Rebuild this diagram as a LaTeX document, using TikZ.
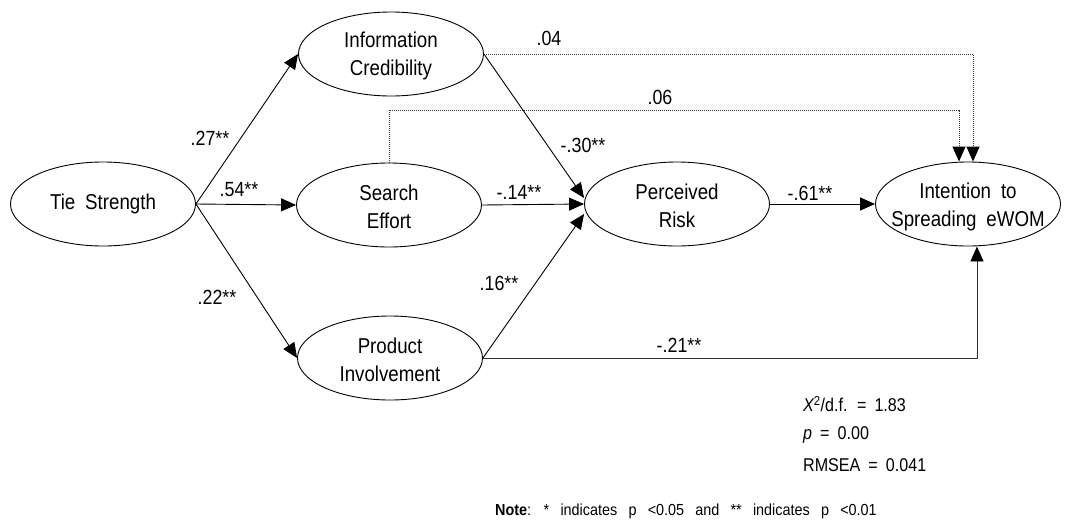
\documentclass[tikz,border=0pt]{standalone}
\usepackage{fontspec}
\setmainfont[FakeStretch=0.87,WordSpace=1.9]{Liberation Sans}
\newfontfamily\statfont[FakeStretch=0.87,WordSpace=1.8]{Liberation Sans}
\newfontfamily\notefont[FakeStretch=0.9,WordSpace=2.8]{Liberation Sans}
\usetikzlibrary{arrows.meta,shapes.geometric,calc}
\begin{document}
\begin{tikzpicture}[x=1pt,y=-1pt,
  var/.style={draw,ellipse,minimum width=185pt,minimum height=84pt,inner sep=0pt,line width=0.9pt},
  txt/.style={align=center,font=\fontsize{21.5}{28}\selectfont,inner sep=0pt},
  lab/.style={font=\fontsize{20.5}{24}\selectfont,inner sep=0pt},
  arr/.style={line width=0.9pt,-{Triangle[length=15pt,width=13pt,color=black]}},
  dotarr/.style={arr,draw=black!80,dash pattern=on 1pt off 1pt},
  stat/.style={anchor=west,font=\statfont\fontsize{18.5}{21}\selectfont,inner sep=0pt},
  notestyle/.style={anchor=west,font=\notefont\fontsize{16}{19}\selectfont,inner sep=0pt}
]
\useasboundingbox (0,0) rectangle (1068,525);

% latent variables
\node[var] (ts) at (103,204) {};
\node[var] (ic) at (391,54) {};
\node[var] (se) at (389,205) {};
\node[var] (pi) at (390,358) {};
\node[var] (pr) at (677,204) {};
\node[var] (it) at (968,204) {};

\node[txt] (tst) at (ts) {Tie Strength};
\node[txt] (ict) at ($(ic)+(0,2)$) {Information\\Credibility};
\node[txt] (set) at ($(se)+(0,2)$) {Search\\Effort};
\node[txt] (pit) at ($(pi)+(0,2)$) {Product\\Involvement};
\node[txt] (prt) at ($(pr)+(0,2)$) {Perceived\\Risk};
\node[txt] (itt) at ($(it)+(0,3)$) {Intention to\\Spreading eWOM};

% helper coordinates
\coordinate (prA) at ($(pr.west)+(0,-6)$);
\coordinate (prC) at ($(pr.west)+(0,10)$);
\coordinate (itN1) at ($(it.north)+(5,0)$);
\coordinate (itN2) at ($(it.north)+(-9,0)$);
\coordinate (itS) at ($(it.south)+(9,0)$);
\coordinate (c06) at (959,110);

% paths
\draw[arr] (ts.east) -- (ic.west);
\draw[arr] (ts.east) -- (se.west);
\draw[arr] (ts.east) -- (pi.west);
\draw[arr] (ic.east) -- (prA);
\draw[arr] (se.east) -- (pr.west);
\draw[arr] (pi.east) -- (prC);
\draw[arr] (pr.east) -- (it.west);
\draw[arr,draw=black!80] (pi.east) -| (itS);
\draw[dotarr] (ic.east) -| (itN1);
\draw[dotarr] (se.north) |- (c06) -- (itN2);

% coefficients
\node[lab] (l1) at (210,138) {.27**};
\node[lab] (l2) at (239,190) {.54**};
\node[lab] (l3) at (217,297) {.22**};
\node[lab] (l4) at (549,38) {.04};
\node[lab] (l5) at (660,97) {.06};
\node[lab] (l6) at (583,145) {-.30**};
\node[lab] (l7) at (519,192) {-.14**};
\node[lab] (l8) at (499,283) {.16**};
\node[lab] (l9) at (810,193) {-.61**};
\node[lab] (l10) at (679,345) {-.21**};

% fit statistics
\node[stat] (s1) at (803,404) {{\itshape X}\textsuperscript{2}/d.f. = 1.83};
\node[stat] (s2) at (803,435) {{\itshape p} = 0.00};
\node[stat] (s3) at (803,465) {RMSEA = 0.041};
\node[notestyle] (note) at (495,511) {\textbf{Note}: * indicates p <0.05 and ** indicates p <0.01};
\end{tikzpicture}
\end{document}
